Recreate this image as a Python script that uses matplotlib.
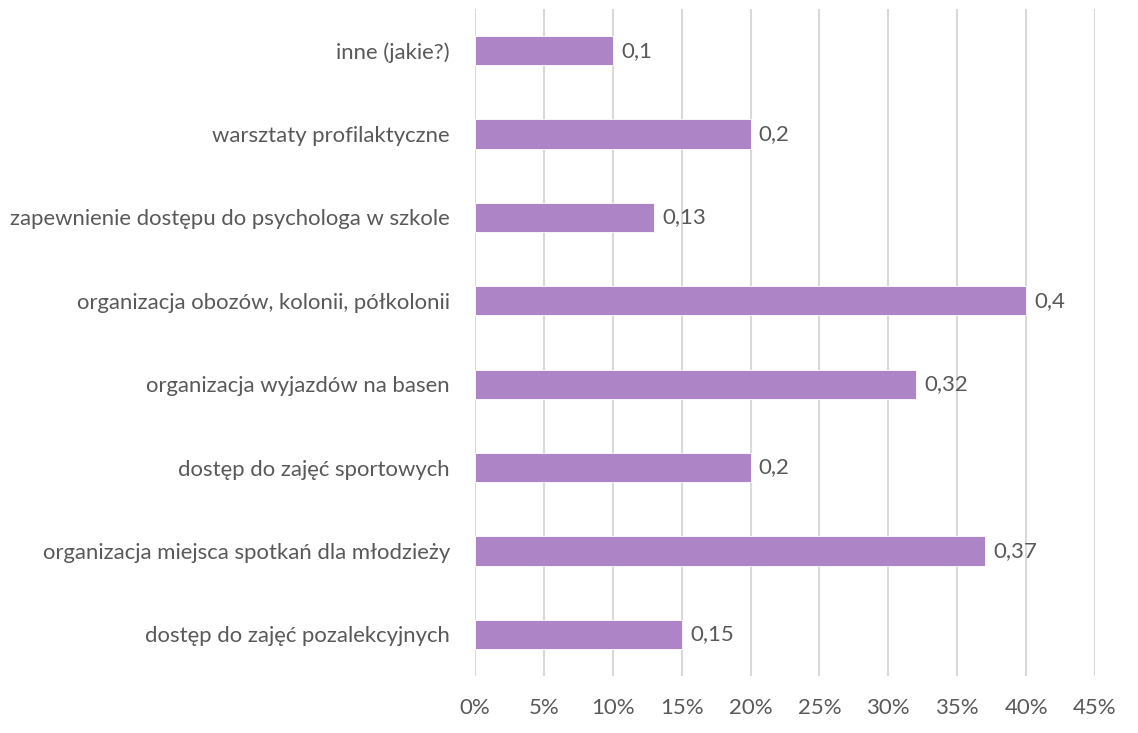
import matplotlib.pyplot as plt
from matplotlib.ticker import FuncFormatter, MultipleLocator

# categories listed bottom to top, as drawn
categories = [
    "dostęp do zajęć pozalekcyjnych",
    "organizacja miejsca spotkań dla młodzieży",
    "dostęp do zajęć sportowych",
    "organizacja wyjazdów na basen",
    "organizacja obozów, kolonii, półkolonii",
    "zapewnienie dostępu do psychologa w szkole",
    "warsztaty profilaktyczne",
    "inne (jakie?)",
]
values = [0.15, 0.37, 0.2, 0.32, 0.4, 0.13, 0.2, 0.1]
value_labels = ["0,15", "0,37", "0,2", "0,32", "0,4", "0,13", "0,2", "0,1"]

bar_color = "#AD84C6"
text_color = "#595959"
grid_color = "#D9D9D9"

plt.rcParams["font.family"] = ["Lato", "DejaVu Sans"]

fig = plt.figure(figsize=(11.38, 7.33), dpi=100)
ax = fig.add_axes([0.4174, 0.0778, 0.5448, 0.9099])

y = range(len(categories))
ax.barh(y, values, height=0.35, color=bar_color, edgecolor="white", linewidth=0.6, zorder=3)

for yi, v, lab in zip(y, values, value_labels):
    ax.text(v + 0.006, yi, lab, va="center", ha="left", fontsize=16, color=text_color)

ax.set_xlim(0, 0.45)
ax.set_ylim(-0.5, len(categories) - 0.5)
ax.xaxis.set_major_locator(MultipleLocator(0.05))
ax.xaxis.set_major_formatter(FuncFormatter(lambda x, pos: f"{x * 100:.0f}%"))
ax.set_yticks(list(y))
ax.set_yticklabels(categories)

ax.grid(axis="x", color=grid_color, linewidth=1.5, zorder=0)
for s in ["top", "right", "bottom", "left"]:
    ax.spines[s].set_visible(False)
ax.tick_params(axis="both", length=0, labelsize=16, labelcolor=text_color)
ax.tick_params(axis="x", pad=16)
ax.tick_params(axis="y", pad=18)
for lbl in ax.get_yticklabels():
    lbl.set_fontsize(15.9)

fig.savefig("out.png", dpi=100)
